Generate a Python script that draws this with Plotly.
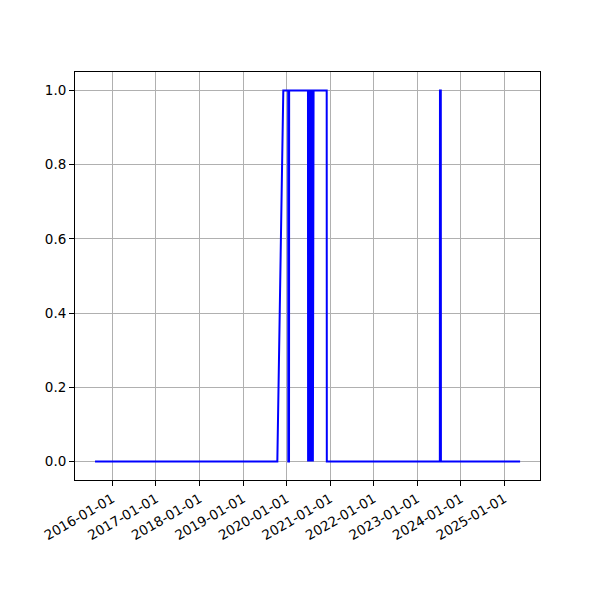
import plotly.graph_objects as go

# Change points of the binary series (value holds until next listed point)
dates = [
    "2015-08-09", "2019-10-16", "2019-12-05",
    "2020-01-15", "2020-01-16", "2020-01-22", "2020-01-23",
    "2020-06-29", "2020-06-30", "2020-07-01",
    "2020-07-04", "2020-07-05", "2020-07-06",
    "2020-07-09", "2020-07-10", "2020-07-11",
    "2020-07-14", "2020-07-15", "2020-07-16",
    "2020-07-19", "2020-07-20", "2020-07-21",
    "2020-07-24", "2020-07-25", "2020-07-26",
    "2020-07-29", "2020-07-30", "2020-07-31",
    "2020-08-03", "2020-08-04", "2020-08-05",
    "2020-08-08", "2020-08-09", "2020-08-10",
    "2020-08-13", "2020-08-14", "2020-08-15",
    "2020-12-03", "2020-12-04",
    "2023-07-10", "2023-07-11", "2023-07-18", "2023-07-19",
    "2025-05-13",
]
values = [
    0, 0, 1,
    1, 0, 0, 1,
    1, 0, 1,
    1, 0, 1,
    1, 0, 1,
    1, 0, 1,
    1, 0, 1,
    1, 0, 1,
    1, 0, 1,
    1, 0, 1,
    1, 0, 1,
    1, 0, 1,
    1, 0,
    0, 1, 1, 0,
    0,
]

tick_dates = ["2016-01-01", "2017-01-01", "2018-01-01", "2019-01-01", "2020-01-01",
              "2021-01-01", "2022-01-01", "2023-01-01", "2024-01-01", "2025-01-01"]
y_ticks = [0.0, 0.2, 0.4, 0.6, 0.8, 1.0]

fig = go.Figure()
fig.add_trace(go.Scatter(x=dates, y=values, mode="lines",
                         line=dict(color="blue", width=2), showlegend=False))

axis_common = dict(
    showline=True, linecolor="black", linewidth=1, mirror=True,
    ticks="outside", ticklen=5, tickcolor="black", tickwidth=1,
    showgrid=True, gridcolor="#b0b0b0", gridwidth=1, zeroline=False,
    tickfont=dict(family="DejaVu Sans", size=13.5, color="black"),
)
fig.update_xaxes(range=["2015-02-22", "2025-10-27"], tickvals=tick_dates,
                 ticktext=tick_dates, tickangle=-30, **axis_common)
fig.update_yaxes(range=[-0.05, 1.05], tickvals=y_ticks,
                 ticktext=[f"{v:.1f}" for v in y_ticks], **axis_common)

fig.update_layout(width=600, height=600, plot_bgcolor="white", paper_bgcolor="white",
                  margin=dict(l=67, r=68, t=64, b=128, autoexpand=False),
                  font=dict(family="DejaVu Sans", size=13.5, color="black"))
fig.write_html("out.html")
